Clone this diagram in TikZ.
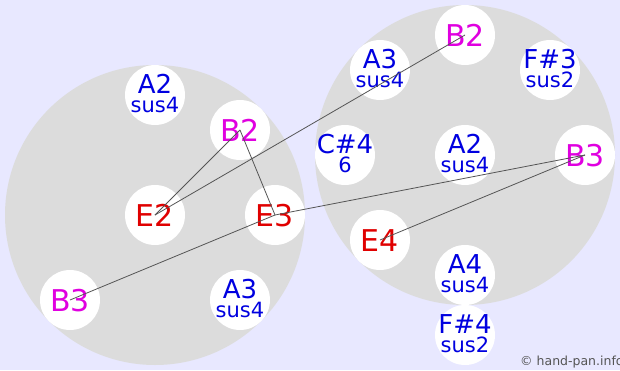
\documentclass[tikz,border=0pt]{standalone}
\usepackage{fontspec}
\setmainfont{DejaVu Sans}
\usetikzlibrary{positioning}
\definecolor{bgblue}{HTML}{E8E8FF}
\definecolor{pangrey}{HTML}{DCDCDC}
\definecolor{noteblue}{HTML}{0000E0}
\definecolor{notemag}{HTML}{E000E0}
\definecolor{notered}{HTML}{E00000}
\definecolor{linegrey}{HTML}{555555}

\begin{document}
\begin{tikzpicture}[x=1pt, y=-1pt,
  pan/.style={circle, fill=pangrey, minimum size=300pt, inner sep=0pt},
  hole/.style={circle, fill=white, minimum size=60pt, inner sep=0pt},
  single/.style={anchor=base, inner sep=0pt, font=\fontsize{30}{36}\selectfont},
  toplbl/.style={anchor=base, inner sep=0pt, text depth=0pt, font=\fontsize{26}{31}\selectfont, text=noteblue},
  sublbl/.style={anchor=base, inner sep=0pt, text height=14pt, text depth=0pt, font=\fontsize{21}{25}\selectfont, text=noteblue},
  link/.style={draw=linegrey, line width=0.8pt}
]

% Background
\useasboundingbox (0,0) rectangle (620,370);
\fill[bgblue] (0,0) rectangle (620,370);

% Pans
\node[pan] (lpan) at (155,215) {};
\node[pan] (rpan) at (465,155) {};

% --- Left pan ---
\node[hole] (lA2) at (155,95) {};
\node[hole] (lB2) at (240,130) {};
\node[hole] (lE2) at (155,215) {};
\node[hole] (lE3) at (275,215) {};
\node[hole] (lB3) at (70,300) {};
\node[hole] (lA3) at (240,300) {};

\node[toplbl] (lA2t) at ([yshift=1.5pt]lA2.center) {A2};
\node[sublbl] (lA2s) at ([yshift=-17pt]lA2.center) {sus4};
\node[single, text=notemag] (lB2t) at ([yshift=-11pt]lB2.center) {B2};
\node[single, text=notered] (lE2t) at ([yshift=-11pt]lE2.center) {E2};
\node[single, text=notered] (lE3t) at ([yshift=-11pt]lE3.center) {E3};
\node[single, text=notemag] (lB3t) at ([yshift=-11pt]lB3.center) {B3};
\node[toplbl] (lA3t) at ([yshift=1.5pt]lA3.center) {A3};
\node[sublbl] (lA3s) at ([yshift=-17pt]lA3.center) {sus4};

% --- Right pan ---
\node[hole] (rB2) at (465,35) {};
\node[hole] (rA3) at (380,70) {};
\node[hole] (rF3) at (550,70) {};
\node[hole] (rC4) at (345,155) {};
\node[hole] (rA2) at (465,155) {};
\node[hole] (rB3) at (585,155) {};
\node[hole] (rE4) at (380,240) {};
\node[hole] (rA4) at (465,275) {};
\node[hole] (rF4) at (465,335) {};

\node[single, text=notemag] (rB2t) at ([yshift=-11pt]rB2.center) {B2};
\node[toplbl] (rA3t) at ([yshift=1.5pt]rA3.center) {A3};
\node[sublbl] (rA3s) at ([yshift=-17pt]rA3.center) {sus4};
\node[toplbl] (rF3t) at ([yshift=1.5pt]rF3.center) {F\#3};
\node[sublbl] (rF3s) at ([yshift=-17pt]rF3.center) {sus2};
\node[toplbl] (rC4t) at ([yshift=1.5pt]rC4.center) {C\#4};
\node[sublbl] (rC4s) at ([yshift=-17pt]rC4.center) {6};
\node[toplbl] (rA2t) at ([yshift=1.5pt]rA2.center) {A2};
\node[sublbl] (rA2s) at ([yshift=-17pt]rA2.center) {sus4};
\node[single, text=notemag] (rB3t) at ([yshift=-11pt]rB3.center) {B3};
\node[single, text=notered] (rE4t) at ([yshift=-11pt]rE4.center) {E4};
\node[toplbl] (rA4t) at ([yshift=1.5pt]rA4.center) {A4};
\node[sublbl] (rA4s) at ([yshift=-17pt]rA4.center) {sus4};
\node[toplbl] (rF4t) at ([yshift=1.5pt]rF4.center) {F\#4};
\node[sublbl] (rF4s) at ([yshift=-17pt]rF4.center) {sus2};

% --- Links ---
\draw[link] (lE2.center) -- (lB2.center);
\draw[link] (lB2.center) -- (lE3.center);
\draw[link] (lE2.center) -- (rB2.center);
\draw[link] (lB3.center) -- (lE3.center);
\draw[link] (lE3.center) -- (rB3.center);
\draw[link] (rB3.center) -- (rE4.center);

% Copyright
\node[anchor=base west, inner sep=0pt, font=\fontsize{12.5}{15}\selectfont, text=linegrey] (copy) at (520,365) {© hand-pan.info};

\end{tikzpicture}
\end{document}
